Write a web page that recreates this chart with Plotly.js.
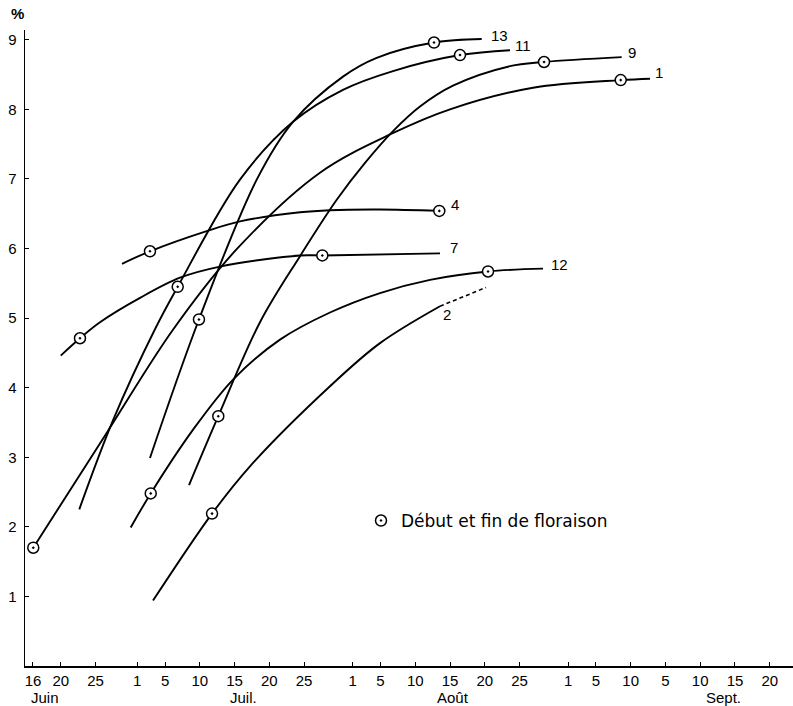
<!DOCTYPE html>
<html>
<head>
<meta charset="utf-8">
<script src="https://cdn.plot.ly/plotly-3.0.1.min.js"></script>
<style>
html,body{margin:0;padding:0;background:#fff;}
#chart{width:793px;height:706px;}
</style>
</head>
<body>
<div id="chart"></div>
<script>
// x values: days counted from 1 June (16 = 16 June, 31 = 1 July, 62 = 1 Aug, 93 = 1 Sept)
const X_TICK_VALS = [16,20,25,31,35,40,45,50,55,62,66,71,76,81,86,93,97,102,107,112,117,122];
const X_TICK_TEXT = ['16','20','25','1','5','10','15','20','25','1','5','10','15','20','25','1','5','10','5','10','15','20'];
const MONTH_NAMES = ['Juin','Juil.','Août','Sept.'];
const MONTH_POS = [17.7, 46.3, 76.5, 115.3];
const Y_TICK_VALS = [1,2,3,4,5,6,7,8,9];

const c1_x = [16.04, 26.6, 36.19, 45.31, 57.29, 67.84, 76.0, 87.94, 100.56, 104.78];
const c1_y = [1.70, 3.35, 4.84, 5.99, 7.09, 7.66, 8.00, 8.31, 8.42, 8.44];
const c1_flo = [0, 8];

const c2_x = [33.27, 41.76, 47.22, 58.73, 65.93, 74.56];
const c2_y = [0.94, 2.19, 2.87, 4.02, 4.64, 5.17];
const c2_flo = [1];
const c2_dash_x = [74.56, 81.18];
const c2_dash_y = [5.17, 5.44];

const c4_x = [28.81, 32.83, 40.99, 45.78, 54.42, 58.73, 65.93, 74.46];
const c4_y = [5.78, 5.96, 6.25, 6.39, 6.52, 6.55, 6.56, 6.54];
const c4_flo = [1, 7];

const c7_x = [19.99, 22.76, 25.64, 31.4, 37.15, 42.91, 54.42, 57.63, 74.56];
const c7_y = [4.46, 4.71, 4.94, 5.29, 5.58, 5.74, 5.90, 5.90, 5.93];
const c7_flo = [1, 7];

const c9_x = [38.45, 42.66, 48.66, 54.42, 59.7, 63.77, 67.84, 71.68, 76.43, 84.63, 89.53, 100.7];
const c9_y = [2.60, 3.59, 4.94, 5.89, 6.70, 7.23, 7.69, 8.04, 8.34, 8.62, 8.68, 8.75];
const c9_flo = [1, 10];

const c11_x = [22.66, 27.55, 33.55, 36.82, 45.78, 53.41, 60.6, 67.8, 77.44, 84.63];
const c11_y = [2.25, 3.54, 4.84, 5.45, 6.99, 7.82, 8.28, 8.55, 8.78, 8.85];
const c11_flo = [3, 8];

const c12_x = [30.06, 32.94, 39.06, 44.82, 51.54, 58.73, 65.93, 73.12, 81.47, 89.38];
const c12_y = [1.99, 2.48, 3.40, 4.12, 4.69, 5.08, 5.36, 5.55, 5.67, 5.71];
const c12_flo = [1, 8];

const c13_x = [32.83, 39.88, 48.19, 53.41, 60.6, 65.45, 73.7, 80.56];
const c13_y = [2.99, 4.98, 6.99, 7.82, 8.47, 8.74, 8.96, 9.01];
const c13_flo = [1, 6];

const LEGEND_TEXT = 'Début et fin de floraison';

const curves = [
  {name:'1',  x:c1_x,  y:c1_y,  flo:c1_flo,  lab:{xs:3, ys:6, anchor:'left'}},
  {name:'2',  x:c2_x,  y:c2_y,  flo:c2_flo,  lab:{xs:7, ys:-8, anchor:'center'}},
  {name:'4',  x:c4_x,  y:c4_y,  flo:c4_flo,  lab:{xs:10, ys:6, anchor:'left'}},
  {name:'7',  x:c7_x,  y:c7_y,  flo:c7_flo,  lab:{xs:8, ys:6, anchor:'left'}},
  {name:'9',  x:c9_x,  y:c9_y,  flo:c9_flo,  lab:{xs:4, ys:5, anchor:'left'}},
  {name:'11', x:c11_x, y:c11_y, flo:c11_flo, lab:{xs:3, ys:5, anchor:'left'}},
  {name:'12', x:c12_x, y:c12_y, flo:c12_flo, lab:{xs:6, ys:4, anchor:'left'}},
  {name:'13', x:c13_x, y:c13_y, flo:c13_flo, lab:{xs:7, ys:4, anchor:'left'}}
];

const FONT = 'Liberation Sans, Arial, sans-serif';
const traces = [];
const annotations = [];
const markerStyle = {symbol:'circle-dot', size:11, color:'#fff', line:{color:'#000', width:1.5}};

curves.forEach(c => {
  traces.push({x:c.x, y:c.y, mode:'lines', type:'scatter', showlegend:false, hoverinfo:'skip',
    line:{color:'#000', width:1.9, shape:'spline', smoothing:1}});
});
traces.push({x:c2_dash_x, y:c2_dash_y, mode:'lines', type:'scatter', showlegend:false,
  line:{color:'#000', width:1.6, dash:'4px,3px'}});
curves.forEach(c => {
  traces.push({x:c.flo.map(i=>c.x[i]), y:c.flo.map(i=>c.y[i]), mode:'markers', type:'scatter',
    showlegend:false, marker:markerStyle});
  const n = c.x.length - 1;
  annotations.push({x:c.x[n], y:c.y[n], xref:'x', yref:'y', text:c.name, showarrow:false,
    xanchor:c.lab.anchor, yanchor:'middle', xshift:c.lab.xs, yshift:c.lab.ys,
    font:{family:FONT, size:15, color:'#000'}});
});
traces.push({x:[null], y:[null], mode:'markers', type:'scatter', name:LEGEND_TEXT,
  showlegend:true, marker:markerStyle});

MONTH_NAMES.forEach((m,i) => {
  annotations.push({x:MONTH_POS[i], y:0, xref:'x', yref:'paper', text:m, showarrow:false,
    yanchor:'middle', xanchor:'center', yshift:-31, font:{family:FONT, size:15, color:'#000'}});
});
annotations.push({x:0, y:1, xref:'paper', yref:'paper', text:'<b>%</b>', showarrow:false,
  xanchor:'center', yanchor:'middle', xshift:-8, yshift:17, font:{family:FONT, size:15, color:'#000'}});

const layout = {
  width:793, height:706,
  margin:{l:25, r:0, t:30, b:40},
  paper_bgcolor:'#fff', plot_bgcolor:'#fff',
  font:{family:FONT, color:'#000'},
  xaxis:{range:[14.85,125.35], tickmode:'array', tickvals:X_TICK_VALS, ticktext:X_TICK_TEXT,
    showline:true, linecolor:'#000', linewidth:1.5, ticks:'inside', ticklen:4, tickcolor:'#000',
    showgrid:false, zeroline:false, tickfont:{family:FONT, size:15, color:'#000'}},
  yaxis:{range:[0,9.14], tickmode:'array', tickvals:Y_TICK_VALS,
    showline:true, linecolor:'#000', linewidth:1.5, ticks:'inside', ticklen:4, tickcolor:'#000',
    showgrid:false, zeroline:false, ticklabelstandoff:4, tickfont:{family:FONT, size:15, color:'#000'}},
  legend:{x:0.4375, y:0.228, xanchor:'left', yanchor:'middle', bgcolor:'rgba(0,0,0,0)',
    font:{family:'DejaVu Sans, sans-serif', size:17, color:'#000'}},
  annotations:annotations,
  showlegend:true
};

Plotly.newPlot('chart', traces, layout, {staticPlot:true, displayModeBar:false});
</script>
</body>
</html>
